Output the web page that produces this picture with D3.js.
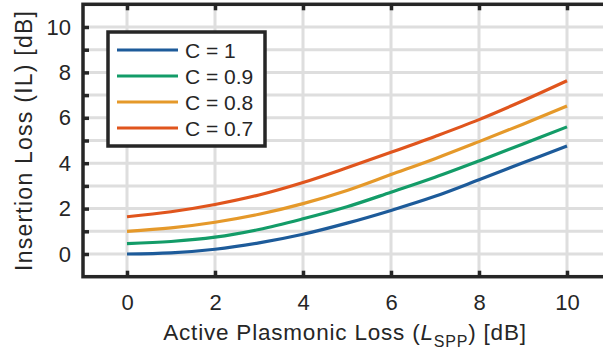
<!DOCTYPE html>
<html>
<head>
<meta charset="utf-8">
<script src="https://cdn.jsdelivr.net/npm/d3@7"></script>
<style>
  body { margin: 0; background: #fff; }
  text { font-family: "Liberation Sans", Arial, sans-serif; fill: #262626; }
</style>
</head>
<body>
<svg id="chart"></svg>
<script>
var width = 603;
var height = 354;

// values
var lspp = [0, 1, 2, 3, 4, 5, 6, 7, 8, 9, 10];
var seriesNames = ["C = 1", "C = 0.9", "C = 0.8", "C = 0.7"];
var ilC1  = [0, 0.05, 0.21, 0.49, 0.87, 1.36, 1.92, 2.54, 3.27, 4.02, 4.76];
var ilC09 = [0.46, 0.55, 0.74, 1.08, 1.55, 2.08, 2.72, 3.38, 4.1, 4.85, 5.6];
var ilC08 = [1.0, 1.15, 1.4, 1.75, 2.22, 2.8, 3.5, 4.2, 4.95, 5.72, 6.52];
var ilC07 = [1.64, 1.86, 2.18, 2.6, 3.15, 3.8, 4.48, 5.18, 5.92, 6.75, 7.63];
var xTicks = [0, 2, 4, 6, 8, 10];
var yTicks = [0, 2, 4, 6, 8, 10];
var yMinor = [0, 1, 2, 3, 4, 5, 6, 7, 8, 9, 10];

var colors = ["#1d5b9a", "#139c68", "#e5992a", "#e0551d"];
var allSeries = [ilC1, ilC09, ilC08, ilC07];

var svg = d3.select('#chart')
    .attr('width', width)
    .attr('height', height);

var x = d3.scaleLinear().domain([-1, 11]).range([83, 611]);
var y = d3.scaleLinear().domain([-1, 11]).range([276.7, 4.3]);
var axisColor = "#262626";
var font = '"Liberation Sans", Arial, sans-serif';

// grid
svg.append('g').selectAll('line')
    .data(yMinor)
    .enter().append('line')
    .attr('x1', x(-1)).attr('x2', x(11))
    .attr('y1', d => y(d)).attr('y2', d => y(d))
    .attr('stroke', '#dedede').attr('stroke-width', 3);
svg.append('g').selectAll('line')
    .data(xTicks)
    .enter().append('line')
    .attr('x1', d => x(d)).attr('x2', d => x(d))
    .attr('y1', y(-1)).attr('y2', y(11))
    .attr('stroke', '#dedede').attr('stroke-width', 3);

// curves
var line = d3.line()
    .x((d, i) => x(lspp[i]))
    .y(d => y(d))
    .curve(d3.curveCatmullRom);

svg.append('g').selectAll('path')
    .data(allSeries)
    .enter().append('path')
    .attr('d', d => line(d))
    .attr('fill', 'none')
    .attr('stroke', (d, i) => colors[i])
    .attr('stroke-width', 3.2);

// axes box
svg.append('rect')
    .attr('x', x(-1)).attr('y', y(11))
    .attr('width', x(11) - x(-1)).attr('height', y(-1) - y(11))
    .attr('fill', 'none').attr('stroke', axisColor).attr('stroke-width', 3.5);

var xAxis = d3.axisBottom(x).tickValues(xTicks).tickSize(-6).tickPadding(18);
var gx = svg.append('g').attr('transform', `translate(0,${y(-1)})`).call(xAxis);
gx.select('.domain').remove();
gx.selectAll('.tick line').attr('stroke', axisColor).attr('stroke-width', 3.5);
gx.selectAll('.tick text').attr('font-size', 22).attr('fill', axisColor)
    .style('font-family', font);

var xTop = d3.axisTop(x).tickValues(xTicks).tickSize(-6).tickFormat('');
var gxt = svg.append('g').attr('transform', `translate(0,${y(11)})`).call(xTop);
gxt.select('.domain').remove();
gxt.selectAll('.tick line').attr('stroke', axisColor).attr('stroke-width', 3.5);

var yAxis = d3.axisLeft(y).tickValues(yMinor).tickSize(-6).tickPadding(12)
    .tickFormat(d => yTicks.indexOf(d) >= 0 ? d : '');
var gy = svg.append('g').attr('transform', `translate(${x(-1)},0)`).call(yAxis);
gy.select('.domain').remove();
gy.selectAll('.tick line').attr('stroke', axisColor).attr('stroke-width', 3.5);
gy.selectAll('.tick text').attr('font-size', 22).attr('fill', axisColor)
    .style('font-family', font);

// axis labels
var xl = svg.append('text')
    .attr('x', 345).attr('y', 340)
    .attr('text-anchor', 'middle')
    .attr('font-size', 22.5)
    .attr('letter-spacing', 0.8);
xl.append('tspan').text('Active Plasmonic Loss (');
xl.append('tspan').attr('font-style', 'italic').text('L');
xl.append('tspan').attr('font-size', 16).attr('dy', 7).text('SPP');
xl.append('tspan').attr('dy', -7).text(') [dB]');

svg.append('text')
    .attr('transform', 'translate(32,141) rotate(-90)')
    .attr('text-anchor', 'middle')
    .attr('font-size', 23)
    .attr('textLength', 260)
    .attr('lengthAdjust', 'spacing')
    .text('Insertion Loss (IL) [dB]');

// legend
var lg = svg.append('g');
lg.append('rect')
    .attr('x', 108).attr('y', 32).attr('width', 157).attr('height', 114)
    .attr('fill', '#fff').attr('stroke', axisColor).attr('stroke-width', 3.5);
var item = lg.selectAll('g.item')
    .data(seriesNames)
    .enter().append('g').attr('class', 'item')
    .attr('transform', (d, i) => `translate(0,${50 + i * 26})`);
item.append('line')
    .attr('x1', 117).attr('x2', 178)
    .attr('stroke', (d, i) => colors[i]).attr('stroke-width', 3.2);
item.append('text')
    .attr('x', 185).attr('dy', '0.36em')
    .attr('font-size', 21)
    .text(d => d);
</script>
</body>
</html>
